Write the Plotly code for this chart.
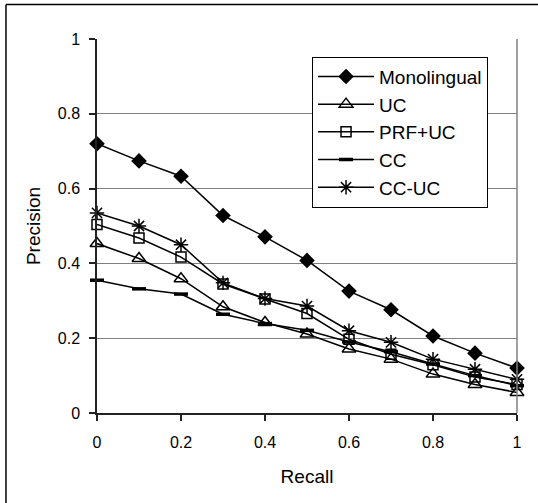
import plotly.graph_objects as go

recall = [0, 0.1, 0.2, 0.3, 0.4, 0.5, 0.6, 0.7, 0.8, 0.9, 1.0]
monolingual = [0.72, 0.674, 0.633, 0.528, 0.471, 0.408, 0.326, 0.276, 0.206, 0.16, 0.12]
uc = [0.453, 0.413, 0.359, 0.284, 0.242, 0.211, 0.171, 0.144, 0.104, 0.076, 0.055]
prf_uc = [0.504, 0.468, 0.417, 0.345, 0.305, 0.266, 0.197, 0.157, 0.129, 0.096, 0.076]
cc = [0.355, 0.332, 0.318, 0.264, 0.239, 0.221, 0.19, 0.164, 0.131, 0.1, 0.073]
cc_uc = [0.535, 0.5, 0.45, 0.348, 0.306, 0.286, 0.22, 0.189, 0.144, 0.117, 0.09]

x_ticks = [0, 0.2, 0.4, 0.6, 0.8, 1]
x_tick_labels = ["0", "0.2", "0.4", "0.6", "0.8", "1"]
y_ticks = [0, 0.2, 0.4, 0.6, 0.8, 1]
y_tick_labels = ["0", "0.2", "0.4", "0.6", "0.8", "1"]

FONT = "Liberation Sans, Arial, sans-serif"

series = [
    ("Monolingual", monolingual, dict(symbol="diamond", size=12, color="black")),
    ("UC", uc, dict(symbol="triangle-up-open", size=12, color="black", line=dict(width=1.5, color="black"))),
    ("PRF+UC", prf_uc, dict(symbol="square-open", size=10, color="black", line=dict(width=1.5, color="black"))),
    ("CC", cc, dict(symbol="line-ew-open", size=10, color="black", line=dict(width=3.5, color="black"))),
    ("CC-UC", cc_uc, dict(symbol="asterisk-open", size=12, color="black", line=dict(width=1.5, color="black"))),
]

fig = go.Figure()
for name, vals, mk in series:
    fig.add_trace(go.Scatter(
        x=recall, y=vals, name=name, mode="lines+markers",
        line=dict(color="black", width=1.5), marker=mk, cliponaxis=False,
    ))

fig.update_layout(
    width=538, height=503,
    margin=dict(l=97, r=21, t=38.5, b=89.5),
    paper_bgcolor="white", plot_bgcolor="white",
    font=dict(family=FONT, color="black", size=16),
    showlegend=True,
    legend=dict(
        x=0.512, y=0.953, xanchor="left", yanchor="top",
        bgcolor="white", bordercolor="black", borderwidth=1,
        font=dict(family=FONT, size=19, color="black"),
        tracegroupgap=0, itemsizing="trace", itemwidth=56,
    ),
    xaxis=dict(
        range=[0, 1], tickvals=x_ticks, ticktext=x_tick_labels,
        showgrid=False, zeroline=False, showline=True, linecolor="#222", linewidth=1.5,
        ticks="outside", ticklen=6, tickcolor="#222", tickwidth=1.5,
        tickfont=dict(size=16), ticklabelstandoff=8,
        title=dict(text="Recall", font=dict(size=19), standoff=20),
    ),
    yaxis=dict(
        range=[0, 1], tickvals=y_ticks, ticktext=y_tick_labels,
        showgrid=True, gridcolor="#808080", gridwidth=1,
        zeroline=False, showline=True, linecolor="#222", linewidth=1.5,
        ticks="outside", ticklen=6, tickcolor="#222", tickwidth=1.5,
        tickfont=dict(size=16), ticklabelstandoff=6,
        title=dict(text="Precision", font=dict(size=19), standoff=12),
    ),
    shapes=[
        dict(type="line", xref="paper", yref="paper", x0=1, x1=1, y0=0, y1=1,
             line=dict(color="#808080", width=1.5)),
        dict(type="line", xref="paper", yref="paper", x0=-0.2167, x1=1.06, y0=1.092, y1=1.092,
             line=dict(color="black", width=1.5)),
        dict(type="line", xref="paper", yref="paper", x0=-0.2167, x1=-0.2167, y0=-0.25, y1=1.092,
             line=dict(color="black", width=1.5)),
    ],
)

fig.write_html("out.html")
